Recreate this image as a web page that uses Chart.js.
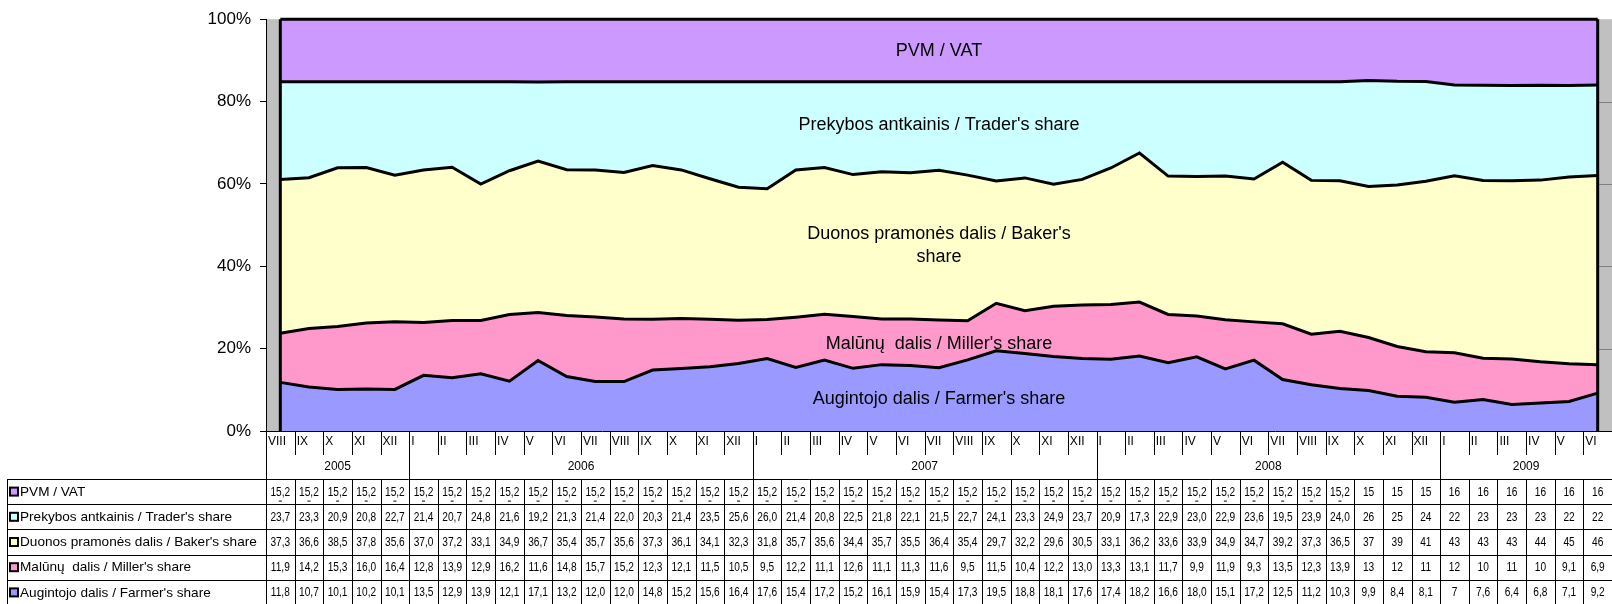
<!DOCTYPE html>
<html>
<head>
<meta charset="utf-8">
<title>Duonos kainos struktūra</title>
<script src="https://cdn.jsdelivr.net/npm/chart.js@4.4.1/dist/chart.umd.min.js"></script>
<style>
  html, body { margin: 0; padding: 0; background: #fff; }
  #wrap { width: 1612px; height: 604px; }
</style>
</head>
<body>
<div id="wrap"><canvas id="shareChart"></canvas></div>
<script>
// months (Roman numerals) and year groups under the axis
const months = ['VIII','IX','X','XI','XII',
  'I','II','III','IV','V','VI','VII','VIII','IX','X','XI','XII',
  'I','II','III','IV','V','VI','VII','VIII','IX','X','XI','XII',
  'I','II','III','IV','V','VI','VII','VIII','IX','X','XI','XII',
  'I','II','III','IV','V','VI'];
const yearLabels = ['2005', '2006', '2007', '2008', '2009'];
const yearSpans = [5, 12, 12, 12, 6];

// series values (% of bread price)
const vat = [15.2,15.2,15.2,15.2,15.2,
  15.2,15.2,15.2,15.2,15.2,15.2,15.2,15.2,15.2,15.2,15.2,15.2,
  15.2,15.2,15.2,15.2,15.2,15.2,15.2,15.2,15.2,15.2,15.2,15.2,
  15.2,15.2,15.2,15.2,15.2,15.2,15.2,15.2,15.2,15,15,15,
  16,16,16,16,16,16];
const trader = [23.7,23.3,20.9,20.8,22.7,
  21.4,20.7,24.8,21.6,19.2,21.3,21.4,22.0,20.3,21.4,23.5,25.6,
  26.0,21.4,20.8,22.5,21.8,22.1,21.5,22.7,24.1,23.3,24.9,23.7,
  20.9,17.3,22.9,23.0,22.9,23.6,19.5,23.9,24.0,26,25,24,
  22,23,23,23,22,22];
const baker = [37.3,36.6,38.5,37.8,35.6,
  37.0,37.2,33.1,34.9,36.7,35.4,35.7,35.6,37.3,36.1,34.1,32.3,
  31.8,35.7,35.6,34.4,35.7,35.5,36.4,35.4,29.7,32.2,29.6,30.5,
  33.1,36.2,33.6,33.9,34.9,34.7,39.2,37.3,36.5,37,39,41,
  43,43,43,44,45,46];
const miller = [11.9,14.2,15.3,16.0,16.4,
  12.8,13.9,12.9,16.2,11.6,14.8,15.7,15.2,12.3,12.1,11.5,10.5,
  9.5,12.2,11.1,12.6,11.1,11.3,11.6,9.5,11.5,10.4,12.2,13.0,
  13.3,13.1,11.7,9.9,11.9,9.3,13.5,12.3,13.9,13,12,11,
  12,10,11,10,9.1,6.9];
const farmer = [11.8,10.7,10.1,10.2,10.1,
  13.5,12.9,13.9,12.1,17.1,13.2,12.0,12.0,14.8,15.2,15.6,16.4,
  17.6,15.4,17.2,15.2,16.1,15.9,15.4,17.3,19.5,18.8,18.1,17.6,
  17.4,18.2,16.6,18.0,15.1,17.2,12.5,11.2,10.3,9.9,8.4,8.1,
  7,7.6,6.4,6.8,7.1,9.2];
// the first columns of the table are shown with one fixed decimal
const fixedDecimalCols = 38;

const yTicks = [0, 20, 40, 60, 80, 100];

// bottom-to-top stack order
const series = [
  { name: 'Augintojo dalis / Farmer\'s share', values: farmer, color: '#9999ff' },
  { name: 'Malūnų  dalis / Miller\'s share', values: miller, color: '#ff99cc' },
  { name: 'Duonos pramonės dalis / Baker\'s share', values: baker, color: '#ffffcc' },
  { name: 'Prekybos antkainis / Trader\'s share', values: trader, color: '#ccffff' },
  { name: 'PVM / VAT', values: vat, color: '#cc99ff' },
];

// text written inside the areas: [lines, y value in %]
const areaLabels = [
  [['PVM / VAT'], 92.2],
  [['Prekybos antkainis / Trader\'s share'], 74.3],
  [['Duonos pramonės dalis / Baker\'s', 'share'], 47.9],
  [['Malūnų  dalis / Miller\'s share'], 21.1],
  [['Augintojo dalis / Farmer\'s share'], 7.7],
];

const totals = months.map((_, i) => series.reduce((s, d) => s + d.values[i], 0));
const pct = (arr) => arr.map((v, i) => v / totals[i] * 100);
const fmt = (v, i) => (i < fixedDecimalCols ? v.toFixed(1) : String(v)).replace('.', ',');

const FONT = '"Liberation Sans", Arial, sans-serif';
const tableTop = 479;
const rowH = 25.2;

const tablePlugin = {
  id: 'priceTable',
  beforeDraw(chart) {
    const { ctx, chartArea: a, scales: { x, y } } = chart;
    ctx.save();
    ctx.fillStyle = '#c0c0c0';
    ctx.fillRect(a.left, a.top, a.right - a.left, a.bottom - a.top);
    // gridlines only show in the right margin
    const lastX = x.getPixelForValue(months.length - 1);
    ctx.strokeStyle = '#808080';
    ctx.lineWidth = 1;
    yTicks.slice(1, -1).forEach(t => {
      const py = Math.round(y.getPixelForValue(t)) + 0.5;
      ctx.beginPath();
      ctx.moveTo(lastX, py);
      ctx.lineTo(a.right, py);
      ctx.stroke();
    });
    ctx.restore();
  },
  afterDatasetsDraw(chart) {
    const { ctx, chartArea: a, scales: { x, y } } = chart;
    ctx.save();
    // area edges at first and last month
    ctx.strokeStyle = '#000';
    ctx.lineWidth = 3;
    [0, months.length - 1].forEach(i => {
      const px = x.getPixelForValue(i);
      ctx.beginPath();
      ctx.moveTo(px, y.getPixelForValue(100));
      ctx.lineTo(px, y.getPixelForValue(0));
      ctx.stroke();
    });
    // labels inside the areas
    ctx.fillStyle = '#000';
    ctx.font = '18px ' + FONT;
    ctx.textAlign = 'center';
    ctx.textBaseline = 'middle';
    const cx = (a.left + a.right) / 2;
    areaLabels.forEach(([lines, v]) => {
      const py = y.getPixelForValue(v);
      lines.forEach((t, k) => ctx.fillText(t, cx, py + k * 23));
    });
    ctx.restore();
  },
  afterDraw(chart) {
    const { ctx, chartArea: a, scales: { x } } = chart;
    const n = months.length;
    const colW = (a.right - a.left) / n;
    const colLeft = (i) => a.left + colW * i;
    const rows = series.slice().reverse();
    const tableBottom = tableTop + rowH * rows.length;
    const line = (x1, y1, x2, y2) => {
      ctx.beginPath(); ctx.moveTo(x1, y1); ctx.lineTo(x2, y2); ctx.stroke();
    };
    ctx.save();
    ctx.strokeStyle = '#000';
    ctx.lineWidth = 1;

    // axis line
    line(a.left, a.bottom + 0.5, a.right, a.bottom + 0.5);

    // year boundaries
    const yearStarts = [0];
    yearSpans.forEach((s, k) => yearStarts.push(yearStarts[k] + s));
    for (let i = 0; i <= n; i++) {
      const px = Math.round(colLeft(i)) + 0.5;
      if (yearStarts.includes(i)) line(px, a.bottom, px, tableBottom);
      else {
        line(px, a.bottom, px, a.bottom + 24);
        line(px, tableTop, px, tableBottom);
      }
    }
    // table horizontals + left border
    for (let r = 0; r <= rows.length; r++) {
      const py = Math.round(tableTop + r * rowH) + 0.5;
      line(7.5, py, a.right, py);
    }
    line(7.5, tableTop, 7.5, tableBottom);

    ctx.fillStyle = '#000';
    ctx.textBaseline = 'middle';
    // month labels
    ctx.font = '12px ' + FONT;
    ctx.textAlign = 'left';
    months.forEach((m, i) => ctx.fillText(m, colLeft(i) + 2, a.bottom + 11));
    // year labels
    ctx.textAlign = 'center';
    yearLabels.forEach((yl, k) => {
      const mid = (colLeft(yearStarts[k]) + colLeft(yearStarts[k + 1])) / 2;
      ctx.fillText(yl, mid, a.bottom + 36);
    });

    // rows
    rows.forEach((s, r) => {
      const cy = tableTop + r * rowH + rowH / 2;
      ctx.fillStyle = s.color;
      ctx.fillRect(10, cy - 4, 8, 8);
      ctx.lineWidth = 2;
      ctx.strokeRect(10, cy - 4, 8, 8);
      ctx.fillStyle = '#000';
      ctx.font = '13.6px ' + FONT;
      ctx.textAlign = 'left';
      ctx.fillText(s.name, 20, cy + 0.5);
      ctx.font = '13px ' + FONT;
      ctx.textAlign = 'center';
      s.values.forEach((v, i) => {
        const txt = fmt(v, i);
        const cxp = x.getPixelForValue(i);
        ctx.save();
        ctx.translate(cxp, cy + 0.5);
        ctx.scale(0.78, 1);
        ctx.fillText(txt, 0, 0);
        ctx.restore();
        if (txt.length > 3 && s.values === vat) {
          ctx.fillRect(cxp - 1.5, cy + 9, 3, 1);
        }
      });
    });
    ctx.restore();
  }
};

const ctx = document.getElementById('shareChart');
new Chart(ctx, {
  type: 'line',
  data: {
    labels: months,
    datasets: series.map((s, k) => ({
      label: s.name,
      data: pct(s.values),
      backgroundColor: s.color,
      borderColor: '#000',
      borderWidth: 3,
      pointRadius: 0,
      tension: 0,
      fill: k === 0 ? 'origin' : '-1',
      clip: false,
    })),
  },
  options: {
    responsive: true,
    maintainAspectRatio: false,
    animation: false,
    layout: { padding: { top: 18, right: 0, left: 0, bottom: 0 } },
    plugins: { legend: { display: false }, tooltip: { enabled: false } },
    scales: {
      x: {
        type: 'category',
        offset: true,
        grid: { display: false },
        border: { display: false },
        ticks: { display: false },
        afterFit: (scale) => { scale.height = 173; },
      },
      y: {
        stacked: true,
        min: 0,
        max: 100,
        afterBuildTicks: (scale) => { scale.ticks = yTicks.map(v => ({ value: v })); },
        ticks: {
          callback: (v) => v + '%',
          color: '#000',
          font: { size: 17, family: FONT },
          padding: 9,
        },
        grid: { drawOnChartArea: false, drawTicks: true, tickLength: 6, color: '#000' },
        border: { display: true, color: '#000', width: 1 },
        afterFit: (scale) => { scale.width = 266; },
      },
    },
  },
  plugins: [tablePlugin],
});
</script>
</body>
</html>
